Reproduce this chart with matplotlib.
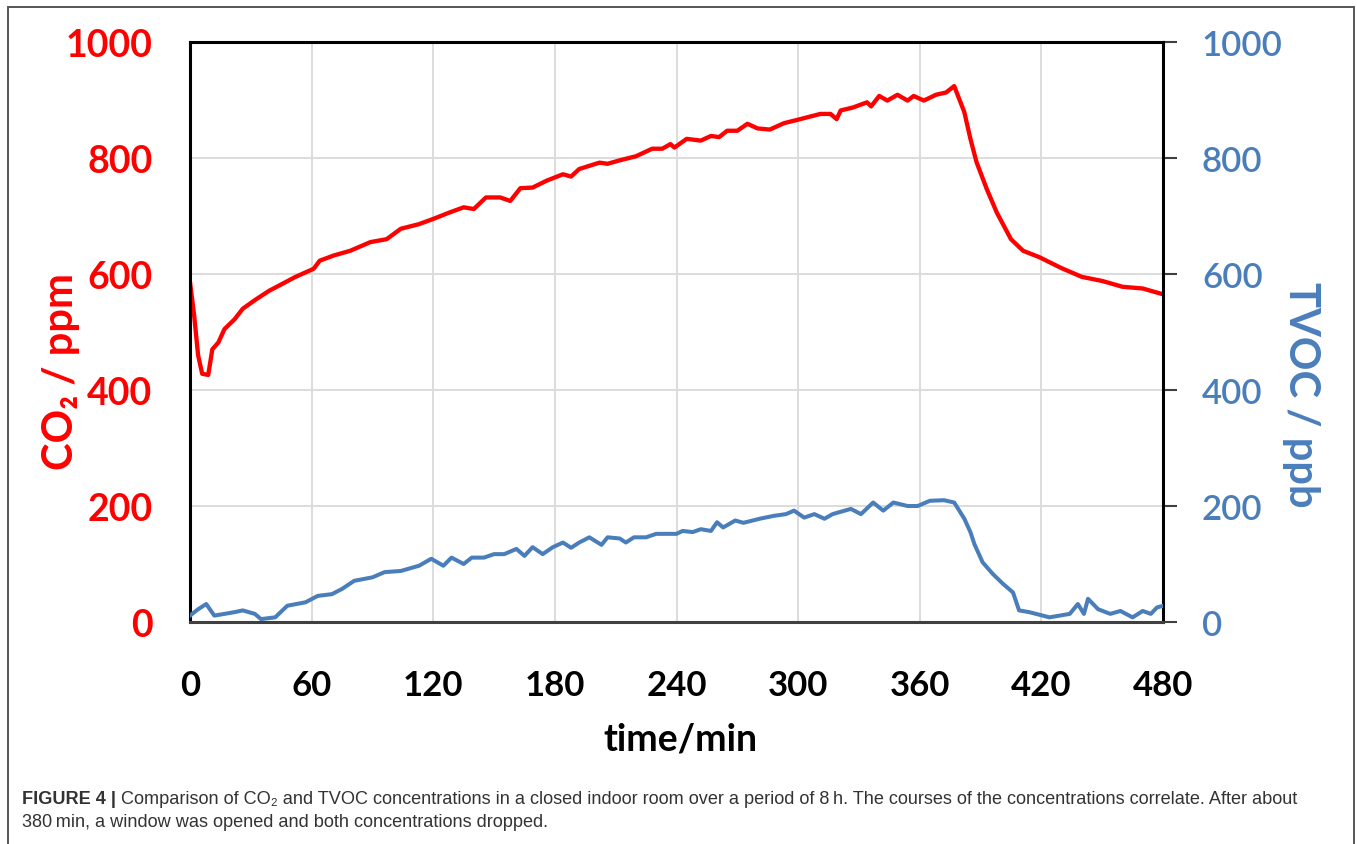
import matplotlib
matplotlib.use("Agg")
import matplotlib.pyplot as plt
from matplotlib.patches import Rectangle

# CO2 readings (ppm)
co2_time = [0, 2, 4, 6, 9, 11, 14, 17, 22, 26, 32, 39, 45, 52, 61, 64, 71, 79, 89, 97,
            104, 113, 120, 128, 135, 140, 146, 153, 158, 163, 169, 176, 184, 188, 192,
            202, 206, 212, 220, 228, 233, 237, 239, 245, 252, 257, 261, 265, 270, 275,
            280, 286, 293, 301, 311, 316, 319, 321, 327, 334, 336, 340, 344, 349, 354,
            357, 362, 368, 373, 377, 382, 385, 388, 393, 398, 405, 411, 419, 430, 440,
            450, 460, 470, 480]
co2_ppm = [586, 530, 460, 428, 426, 470, 482, 505, 522, 540, 555, 571, 582, 595, 609, 623,
           632, 640, 655, 660, 678, 686, 695, 706, 715, 712, 732, 732, 726, 748, 749, 761,
           772, 768, 781, 792, 790, 796, 803, 816, 816, 824, 818, 833, 830, 838, 836, 847,
           847, 859, 851, 849, 860, 867, 876, 876, 867, 882, 887, 896, 889, 907, 899, 909,
           899, 907, 899, 909, 913, 924, 879, 833, 793, 747, 706, 660, 640, 629, 610, 595,
           588, 578, 575, 565]

# TVOC readings (ppb)
tvoc_time = [0, 4, 8, 12, 17, 22, 26, 32, 35, 42, 48, 57, 63, 70, 75, 81, 90, 96, 104,
             113, 119, 125, 129, 135, 139, 145, 150, 155, 161, 165, 169, 174, 179, 184,
             188, 192, 197, 203, 206, 212, 215, 219, 225, 230, 235, 240, 243, 248, 252,
             257, 260, 263, 269, 273, 281, 288, 294, 298, 303, 308, 313, 317, 326, 331,
             337, 342, 347, 354, 359, 365, 372, 377, 382, 385, 387, 391, 396, 401, 406,
             409, 414, 424, 434, 438, 441, 443, 448, 454, 459, 465, 470, 474, 477, 480]
tvoc_ppb = [11, 22, 31, 11, 14, 17, 20, 14, 5, 8, 28, 34, 45, 48, 57, 71, 77, 86, 88, 97,
            109, 97, 111, 100, 111, 111, 117, 117, 126, 114, 129, 117, 129, 137, 128, 137,
            146, 133, 146, 144, 137, 146, 146, 152, 152, 152, 157, 155, 160, 157, 172, 163,
            175, 171, 178, 183, 186, 192, 180, 186, 178, 186, 195, 186, 206, 192, 206, 200,
            200, 209, 210, 206, 178, 155, 134, 103, 83, 66, 51, 20, 17, 8, 14, 31, 14, 40,
            22, 14, 19, 8, 19, 14, 25, 28]

x_ticks = [0, 60, 120, 180, 240, 300, 360, 420, 480]
y_ticks = [0, 200, 400, 600, 800, 1000]

RED = "#ff0000"
BLUE = "#4a7ebb"
W, H = 1357, 845

plt.rcParams["font.family"] = ["Lato", "DejaVu Sans"]

fig = plt.figure(figsize=(W / 100, H / 100), dpi=100)
ax = fig.add_axes([190 / W, 1 - 623 / H, (1163 - 190) / W, (623 - 43) / H])
ax2 = ax.twinx()

ax.plot(co2_time, co2_ppm, color=RED, lw=3.1, solid_joinstyle="round", zorder=3)
ax2.plot(tvoc_time, tvoc_ppb, color=BLUE, lw=2.9, solid_joinstyle="round", zorder=3)

for a in (ax, ax2):
    a.set_xlim(0, 480)
    a.set_ylim(0, 1000)
    for s in a.spines.values():
        s.set_visible(False)

ax.set_xticks(x_ticks)
ax.set_yticks(y_ticks)
ax2.set_yticks(y_ticks)
ax.grid(True, color="#dcdcdc", lw=1.4)
ax.set_axisbelow(True)

ax.tick_params(axis="x", length=0, pad=34, labelsize=25, labelcolor="black")
for lab in ax.get_xticklabels():
    lab.set_fontweight("bold")
ax.tick_params(axis="y", length=0, pad=27, labelsize=27, labelcolor=RED)
for lab in ax.get_yticklabels():
    lab.set_fontweight("bold")
ax2.tick_params(axis="y", direction="out", length=10, width=1.5, color="#404040",
                pad=18, labelsize=25, labelcolor=BLUE)
for lab in ax2.get_yticklabels():
    lab.set_fontweight("semibold")

# frame: black left/top/right, grey bottom
for k in ("left", "top", "right", "bottom"):
    ax2.spines[k].set_visible(True)
for k in ("left", "top", "right"):
    ax2.spines[k].set_color("black")
    ax2.spines[k].set_linewidth(2.2)
ax2.spines["bottom"].set_color("#404040")
ax2.spines["bottom"].set_linewidth(2.2)

fig.text(680 / W, 1 - 740 / H, "time/min", ha="center", va="center",
         fontsize=27, fontweight="bold")
fig.text(61 / W, 1 - 372 / H, "CO₂ / ppm", ha="center", va="center", rotation=90,
         fontsize=30, fontweight="bold", color=RED)
fig.text(1301 / W, 1 - 395 / H, "TVOC / ppb", ha="center", va="center", rotation=270,
         fontsize=30, fontweight="bold", color=BLUE)

# outer frame
fig.patches.append(Rectangle((8 / W, -0.05), (1354 - 8) / W, 1.05 - 8 / H,
                             transform=fig.transFigure, fill=False,
                             edgecolor="#555555", lw=1.4))

# caption
cap_font = ["Liberation Sans", "DejaVu Sans"]
cap_size = 13.1
t1 = fig.text(22 / W, 1 - 800 / H, "FIGURE 4 | ", ha="left", va="center",
              fontsize=cap_size, fontweight="bold", family=cap_font, color="#333333")
fig.canvas.draw()
bb = t1.get_window_extent()
fig.text(bb.x1 / W, 1 - 800 / H,
         "Comparison of CO₂ and TVOC concentrations in a closed indoor room over a period of 8\u2009h. "
         "The courses of the concentrations correlate. After about",
         ha="left", va="center", fontsize=cap_size, family=cap_font, color="#333333")
fig.text(22 / W, 1 - 823 / H,
         "380\u2009min, a window was opened and both concentrations dropped.",
         ha="left", va="center", fontsize=cap_size, family=cap_font, color="#333333")

fig.savefig("out.png", dpi=100)
